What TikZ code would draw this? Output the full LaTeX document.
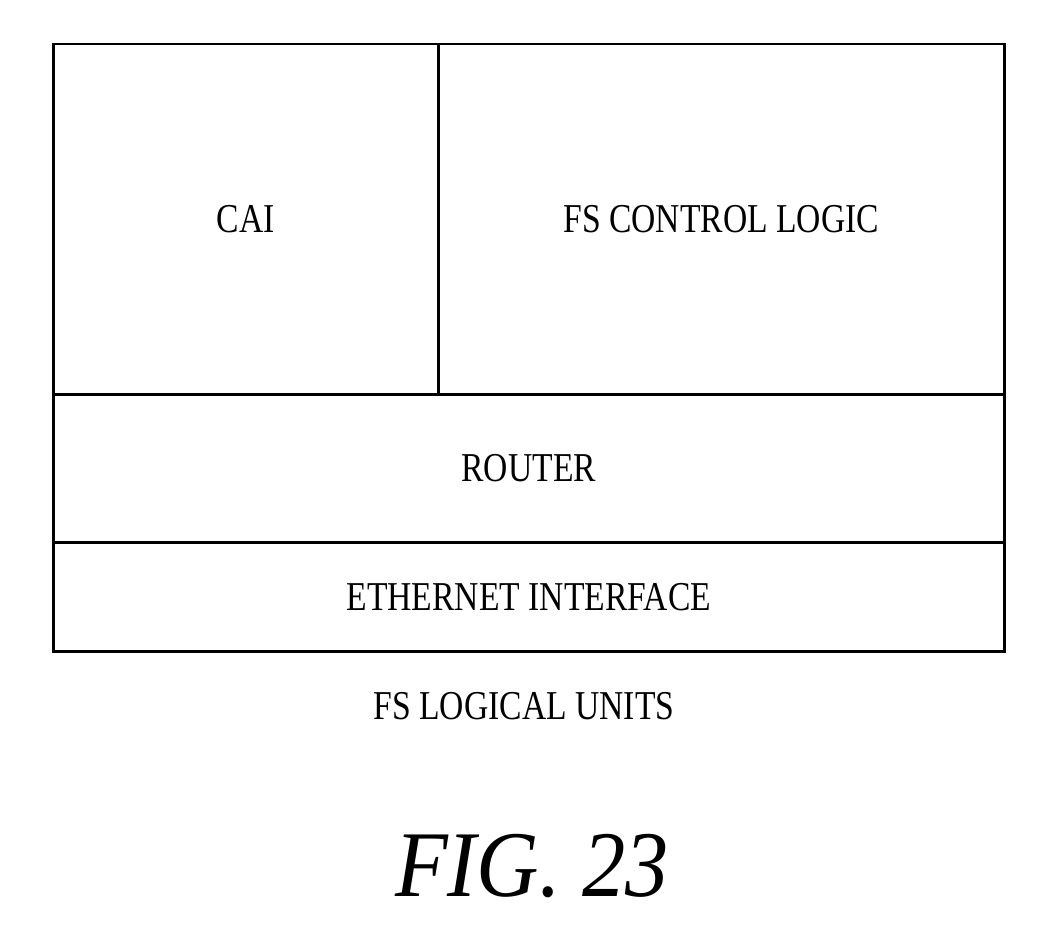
\documentclass[tikz,border=0pt]{standalone}
\usepackage{fontspec}
\setmainfont{Liberation Serif}
\begin{document}
\begin{tikzpicture}[x=1pt,y=-1pt,
  box/.style={draw,line width=2.5pt,anchor=north west,inner sep=0pt,font=\fontsize{40}{44}\selectfont},
  lbl/.style={font=\fontsize{41}{44}\selectfont,xscale=0.82}]
\useasboundingbox (0,0) rectangle (1049,936);
\node[box,minimum width=385pt,minimum height=350pt] (cai) at (52,43) {};
\node[box,minimum width=566pt,minimum height=350pt] (fs) at (437,43) {};
\node[box,minimum width=951pt,minimum height=148pt] (router) at (52,393) {};
\node[box,minimum width=951pt,minimum height=109pt] (eth) at (52,541) {};
\node[lbl] (t1) at (cai.center) {CAI};
\node[lbl] (t2) at (fs.center) {FS CONTROL LOGIC};
\node[lbl] (t3) at (router.center) {ROUTER};
\node[lbl] (t4) at (eth.center) {ETHERNET INTERFACE};
\node[lbl] (cap) at (524,706) {FS LOGICAL UNITS};
\node[font=\fontsize{94}{100}\selectfont\itshape,xscale=0.92] (fig) at (532,866) {FIG. 23};
\end{tikzpicture}
\end{document}
